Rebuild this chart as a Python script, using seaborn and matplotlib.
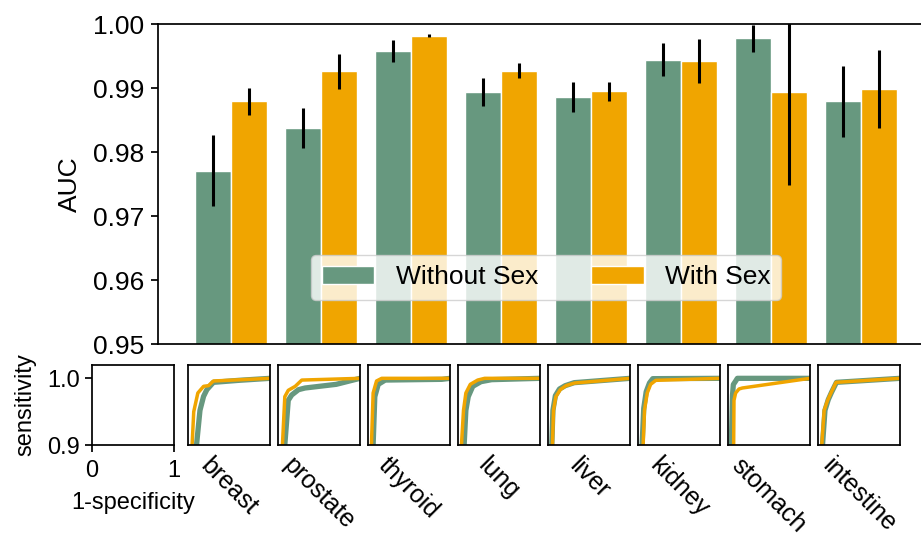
import matplotlib
matplotlib.use("Agg")
import matplotlib.pyplot as plt
import pandas as pd
import seaborn as sns

# ---- data -------------------------------------------------------------
organs = ["breast", "prostate", "thyroid", "lung", "liver", "kidney", "stomach", "intestine"]
models = ["Without Sex", "With Sex"]

auc_without = [0.9771, 0.9837, 0.9958, 0.9894, 0.9886, 0.9944, 0.9978, 0.9879]
err_without = [0.0055, 0.0031, 0.0017, 0.0022, 0.0024, 0.0026, 0.0021, 0.0056]
auc_with = [0.9879, 0.9926, 0.9982, 0.9927, 0.9895, 0.9942, 0.9894, 0.9898]
err_with = [0.0021, 0.0027, 0.0003, 0.0012, 0.0015, 0.0034, 0.0145, 0.0061]

# ROC curves (false positive rate, true positive rate) per organ
roc_without = {
    "breast": ([0.10, 0.104, 0.146, 0.19, 0.23, 0.31, 0.62, 1.0],
               [0.88, 0.90, 0.952, 0.973, 0.983, 0.994, 0.997, 1.0]),
    "prostate": ([0.08, 0.083, 0.125, 0.167, 0.25, 0.33, 0.71, 1.0],
                 [0.88, 0.90, 0.967, 0.975, 0.983, 0.9855, 0.991, 1.0]),
    "thyroid": ([0.06, 0.0625, 0.083, 0.125, 0.21, 0.90, 1.0],
                [0.88, 0.90, 0.9725, 0.991, 0.9974, 0.9985, 1.0]),
    "lung": ([0.072, 0.075, 0.096, 0.125, 0.18, 0.28, 0.41, 1.0],
             [0.88, 0.90, 0.952, 0.9725, 0.988, 0.995, 0.998, 1.0]),
    "liver": ([0.044, 0.046, 0.06, 0.09, 0.14, 0.21, 0.32, 1.0],
              [0.88, 0.90, 0.952, 0.974, 0.984, 0.989, 0.9935, 1.0]),
    "kidney": ([0.048, 0.05, 0.07, 0.10, 0.14, 0.18, 1.0],
               [0.88, 0.90, 0.955, 0.98, 0.993, 0.9995, 1.0]),
    "stomach": ([0.038, 0.04, 0.055, 0.065, 0.094, 0.114, 1.0],
                [0.88, 0.90, 0.975, 0.9907, 0.996, 1.0, 1.0]),
    "intestine": ([0.053, 0.055, 0.085, 0.125, 0.165, 0.225, 1.0],
                  [0.88, 0.90, 0.952, 0.968, 0.979, 0.994, 1.0]),
}
roc_with = {
    "breast": ([0.048, 0.05, 0.07, 0.12, 0.19, 0.25, 0.31, 1.0],
               [0.88, 0.90, 0.95, 0.978, 0.988, 0.989, 0.996, 1.0]),
    "prostate": ([0.052, 0.054, 0.083, 0.125, 0.21, 0.29, 1.0],
                 [0.88, 0.90, 0.9725, 0.982, 0.988, 0.9974, 1.0]),
    "thyroid": ([0.04, 0.042, 0.0625, 0.104, 0.167, 1.0],
                [0.88, 0.90, 0.978, 0.996, 1.0, 1.0]),
    "lung": ([0.04, 0.042, 0.067, 0.096, 0.15, 0.24, 0.325, 1.0],
             [0.88, 0.90, 0.952, 0.978, 0.991, 0.9974, 1.0, 1.0]),
    "liver": ([0.052, 0.054, 0.067, 0.096, 0.15, 0.22, 0.325, 1.0],
              [0.88, 0.90, 0.952, 0.9725, 0.983, 0.989, 0.993, 1.0]),
    "kidney": ([0.06, 0.0625, 0.079, 0.1125, 0.154, 0.217, 1.0],
               [0.88, 0.90, 0.952, 0.978, 0.991, 0.997, 1.0]),
    "stomach": ([0.067, 0.069, 0.073, 0.093, 0.134, 0.175, 1.0],
                [0.88, 0.90, 0.967, 0.978, 0.984, 0.9855, 1.0]),
    "intestine": ([0.044, 0.046, 0.075, 0.117, 0.158, 0.22, 1.0],
                  [0.88, 0.90, 0.952, 0.967, 0.978, 0.994, 1.0]),
}

GREEN = "#67987f"
ORANGE = "#f0a500"

# ---- style ------------------------------------------------------------
sns.set_style("ticks")
plt.rcParams["font.family"] = ["Liberation Sans", "DejaVu Sans"]
plt.rcParams.update({
    "axes.edgecolor": "black",
    "axes.linewidth": 1.25,
    "text.color": "black",
    "axes.labelcolor": "black",
    "xtick.color": "black",
    "ytick.color": "black",
})

W, H = 921, 534
fig = plt.figure(figsize=(W / 100, H / 100), dpi=100)

# ---- AUC bar chart ----------------------------------------------------
ax = fig.add_axes([158 / W, 1 - 344 / H, 1 - 158 / W, 320 / H])
df = pd.DataFrame({
    "organ": organs * 2,
    "AUC": auc_without + auc_with,
    "model": [models[0]] * len(organs) + [models[1]] * len(organs),
})
sns.barplot(data=df, x="organ", y="AUC", hue="model", hue_order=models,
            palette=[GREEN, ORANGE], saturation=1, errorbar=None,
            edgecolor="white", linewidth=1, width=0.8, ax=ax)

for container, errs in zip(ax.containers, [err_without, err_with]):
    xs = [p.get_x() + p.get_width() / 2 for p in container]
    ax.errorbar(xs, container.datavalues, yerr=errs, fmt="none",
                ecolor="black", elinewidth=2.2, capsize=0, zorder=5)

yticks = [0.95, 0.96, 0.97, 0.98, 0.99, 1.00]
ax.set_ylim(0.95, 1.0)
ax.set_xlim(-0.811, 7.667)
ax.set_yticks(yticks)
ax.set_yticklabels([f"{v:.2f}" for v in yticks])
ax.set_xticks([])
ax.set_xlabel("")
ax.set_ylabel("AUC", fontsize=19, labelpad=8)
ax.tick_params(axis="y", labelsize=19, length=5, width=1.25, pad=5)
ax.spines["right"].set_visible(False)

handles, labels = ax.get_legend_handles_labels()
ax.legend(handles, labels, ncol=2, loc="lower center",
          bbox_to_anchor=(0.5085, 0.1375), borderaxespad=0,
          fontsize=19, frameon=True, framealpha=0.8, edgecolor="#cccccc")

# ---- ROC panels -------------------------------------------------------
panel_w, panel_h = 82 / W, 80 / H
panel_bottom = 1 - 445 / H

key = fig.add_axes([92 / W, panel_bottom, panel_w, panel_h])
key.set_xlim(0, 1)
key.set_ylim(0.9, 1.02)
key.set_xticks([0, 1])
key.set_xticklabels(["0", "1"])
key.set_yticks([0.9, 1.0])
key.set_yticklabels(["0.9", "1.0"])
key.tick_params(labelsize=17, length=5, width=1.25)
key.tick_params(axis="x", pad=6)
key.set_xlabel("1-specificity", fontsize=17, labelpad=7)
key.set_ylabel("sensitivity", fontsize=17, labelpad=8)

for i, organ in enumerate(organs):
    rax = fig.add_axes([(188 + 90 * i) / W, panel_bottom, panel_w, panel_h])
    fpr, tpr = roc_without[organ]
    sns.lineplot(x=fpr, y=tpr, sort=False, estimator=None, color=GREEN,
                 linewidth=3.8, ax=rax)
    fpr, tpr = roc_with[organ]
    sns.lineplot(x=fpr, y=tpr, sort=False, estimator=None, color=ORANGE,
                 linewidth=2.5, ax=rax)
    rax.set_xlim(0, 1)
    rax.set_ylim(0.9, 1.02)
    rax.set_xticks([])
    rax.set_yticks([])
    rax.set_xlabel(organ, fontsize=18, rotation=-45, labelpad=6)
    rax.set_ylabel("")

fig.savefig("out.png", dpi=100)
